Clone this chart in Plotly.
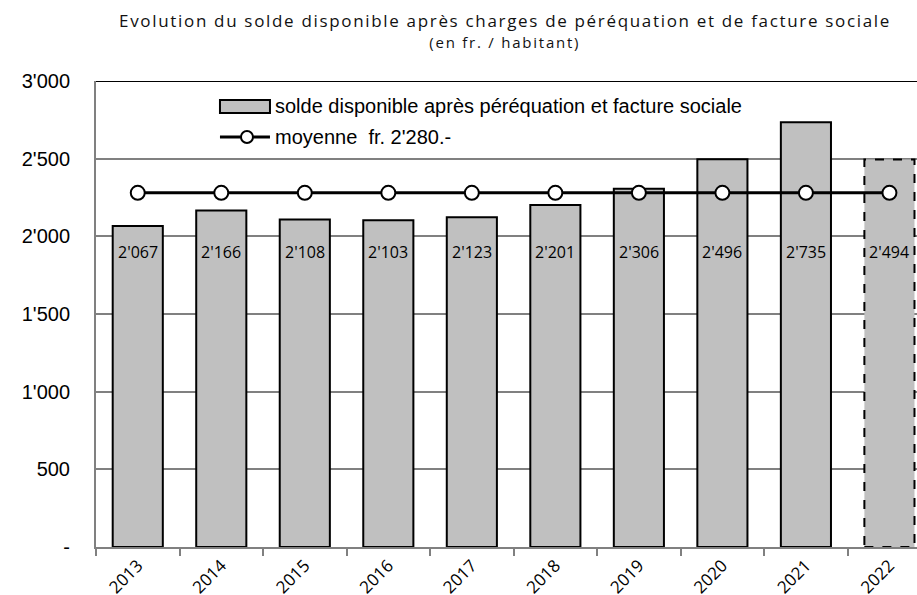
import plotly.graph_objects as go

years = ["2013", "2014", "2015", "2016", "2017", "2018", "2019", "2020", "2021", "2022"]
solde = [2067, 2166, 2108, 2103, 2123, 2201, 2306, 2496, 2735, 2494]
moyenne = 2280
bar_labels = ["2'067", "2'166", "2'108", "2'103", "2'123", "2'201", "2'306", "2'496", "2'735", "2'494"]
ytick_vals = [0, 500, 1000, 1500, 2000, 2500, 3000]
ytick_text = ["-", "500", "1'000", "1'500", "2'000", "2'500", "3'000"]
title_text = "Evolution du solde disponible après charges de péréquation et de facture sociale"
subtitle_text = "(en fr. / habitant)"
legend_bar = "solde disponible après péréquation et facture sociale"
legend_line = "moyenne  fr. 2'280.-"

LABEL_Y = 1900
BAR_W = 0.6
ARIAL = "Liberation Sans, Arial, sans-serif"
SEGOE = "Open Sans, sans-serif"

fig = go.Figure()

line_colors = ["black"] * (len(years) - 1) + ["rgba(0,0,0,0)"]
fig.add_trace(go.Bar(
    x=years, y=solde, width=BAR_W,
    marker=dict(color="#C0C0C0", line=dict(color=line_colors, width=2)),
    showlegend=False, hoverinfo="skip",
))
fig.add_trace(go.Scatter(
    x=years, y=[moyenne] * len(years), mode="lines+markers",
    line=dict(color="black", width=3),
    marker=dict(symbol="circle", size=14, color="white", line=dict(color="black", width=2)),
    showlegend=False, hoverinfo="skip",
))

last = len(years) - 1
fig.add_shape(type="rect", xref="x", yref="y",
              x0=last - BAR_W / 2, x1=last + BAR_W / 2, y0=0, y1=solde[last],
              line=dict(color="black", width=2, dash="dash"), fillcolor="rgba(0,0,0,0)", layer="above")

for i, lab in enumerate(bar_labels):
    fig.add_annotation(x=i, y=LABEL_Y, text=lab, showarrow=False,
                       font=dict(family=SEGOE, size=16, color="black"))

fig.add_shape(type="line", xref="paper", yref="y", x0=0, x1=1, y0=3000, y1=3000,
              line=dict(color="black", width=2), layer="above")

# custom legend
fig.add_shape(type="rect", xref="paper", yref="paper", x0=0.1510, x1=0.2119, y0=0.9313, y1=0.9592,
              fillcolor="#C0C0C0", line=dict(color="black", width=2))
fig.add_annotation(xref="paper", yref="paper", x=0.2160, y=0.9453, xanchor="left", yanchor="middle",
                   text=legend_bar, showarrow=False,
                   font=dict(family=ARIAL, size=20, color="black"))
fig.add_shape(type="line", xref="paper", yref="paper", x0=0.1510, x1=0.2119, y0=0.8798, y1=0.8798,
              line=dict(color="black", width=3))
fig.add_shape(type="circle", xref="paper", yref="paper", xsizemode="pixel", ysizemode="pixel",
              xanchor=0.1839, yanchor=0.8798, x0=-6, x1=6, y0=-6, y1=6,
              fillcolor="white", line=dict(color="black", width=2))
fig.add_annotation(xref="paper", yref="paper", x=0.2160, y=0.8798, xanchor="left", yanchor="middle",
                   text=legend_line, showarrow=False,
                   font=dict(family=ARIAL, size=20, color="black"))

fig.add_annotation(xref="paper", yref="paper", x=0.498, y=1, yshift=61, xanchor="center", yanchor="middle",
                   text=title_text, showarrow=False,
                   font=dict(family=SEGOE, size=17, color="#111111"))
fig.add_annotation(xref="paper", yref="paper", x=0.498, y=1, yshift=39, xanchor="center", yanchor="middle",
                   text=subtitle_text, showarrow=False,
                   font=dict(family=SEGOE, size=15, color="#111111"))

fig.update_layout(
    width=917, height=595,
    margin=dict(l=96, r=0, t=81, b=48),
    paper_bgcolor="white", plot_bgcolor="white",
    xaxis=dict(type="category", range=[-0.5, 9.33], showline=True, linecolor="#808080", linewidth=2,
               ticks="outside", tickson="boundaries", ticklen=7, tickcolor="#808080", tickwidth=1.5,
               tickangle=-45, showgrid=False, automargin=False,
               tickfont=dict(family=SEGOE, size=17, color="black")),
    yaxis=dict(range=[0, 3000], tickvals=ytick_vals, ticktext=ytick_text, showline=True,
               linecolor="#808080", linewidth=2, showgrid=True, gridcolor="#808080", gridwidth=1.5,
               zeroline=False, ticks="", ticklabelstandoff=20, automargin=False,
               tickfont=dict(family=ARIAL, size=20, color="black")),
)

post = """
document.body.style.margin = '0';
var targets = {};
targets[%s] = 772;
targets[%s] = 151;
document.querySelectorAll('text.annotation-text').forEach(function(t){
  var w = targets[t.textContent];
  if (w) {
    var n = t.textContent.length;
    var cur = t.getComputedTextLength();
    t.style.letterSpacing = ((w - cur) / n) + 'px';
  }
});
""" % (repr(title_text), repr(subtitle_text))

fig.write_html("out.html", post_script=post, config={"displayModeBar": False})
